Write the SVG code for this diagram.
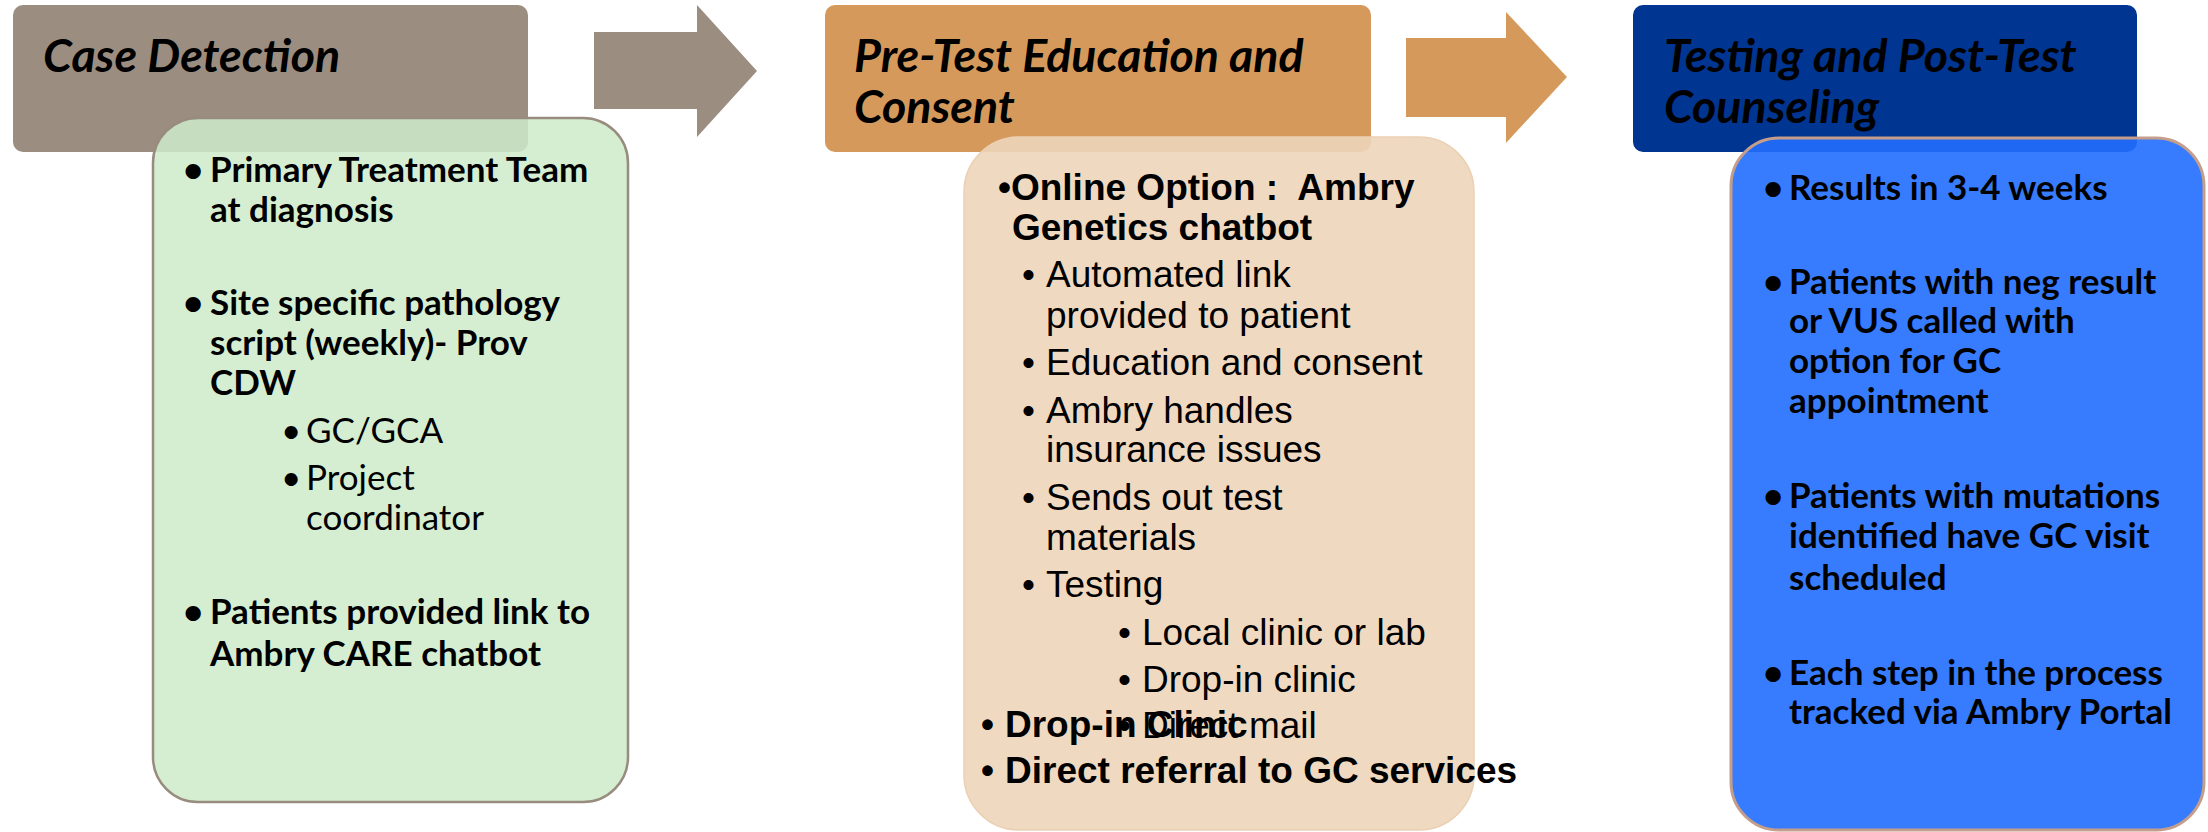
<svg xmlns="http://www.w3.org/2000/svg" width="2208" height="832" viewBox="0 0 2208 832">
  <style>
    .hdr { font-family: Lato, "Open Sans", sans-serif; font-weight: 700; font-style: italic; font-size: 46.5px; fill: #000; }
    .cb { font-family: Lato, "Open Sans", sans-serif; font-weight: 700; font-size: 35px; fill: #000; }
    .cr { font-family: Lato, "Open Sans", sans-serif; font-weight: 400; font-size: 35px; fill: #000; }
    .ab { font-family: "Liberation Sans", Arial, sans-serif; font-weight: 700; font-size: 37px; fill: #000; }
    .ar { font-family: "Liberation Sans", Arial, sans-serif; font-weight: 400; font-size: 37px; fill: #000; }
  </style>

  <!-- stage 1: case detection -->
  <g id="case-detection-header">
    <rect x="13" y="5" width="515" height="147" rx="10" fill="#9B8E80"/>
    <text class="hdr" x="43" y="72">Case Detection</text>
  </g>

  <!-- stage 2: pre-test education -->
  <g id="pretest-header">
    <rect x="825" y="5" width="546" height="147" rx="10" fill="#D59A5B"/>
    <text class="hdr" x="854" y="72">Pre-Test Education and</text>
    <text class="hdr" x="854" y="123">Consent</text>
  </g>

  <!-- stage 3: testing and counseling -->
  <g id="testing-header">
    <rect x="1633" y="5" width="504" height="147" rx="10" fill="#003591"/>
    <text class="hdr" x="1664" y="72">Testing and Post-Test</text>
    <text class="hdr" x="1664" y="123">Counseling</text>
  </g>

  <!-- block arrows between stages -->
  <g id="connectors">
    <polygon points="594,32 697,32 697,5 757,71 697,137 697,109 594,109" fill="#9B8E80"/>
    <polygon points="1406,38 1506,38 1506,12 1567,77 1506,143 1506,117 1406,117" fill="#D59A5B"/>
  </g>

  <!-- detail card: case detection -->
  <g id="case-detection-details">
    <rect x="153" y="118" width="475" height="684" rx="45" fill="#CEEBCA" fill-opacity="0.85" stroke="#988C7E" stroke-width="2.5"/>
    <text class="cb" x="183" y="182">•</text>
    <text class="cb" x="210" y="182">Primary Treatment Team</text>
    <text class="cb" x="210" y="222">at diagnosis</text>
    <text class="cb" x="183" y="315">•</text>
    <text class="cb" x="210" y="315">Site specific pathology</text>
    <text class="cb" x="210" y="355">script (weekly)- Prov</text>
    <text class="cb" x="210" y="395">CDW</text>
    <text class="cr" x="281" y="443">•</text>
    <text class="cr" x="306" y="443">GC/GCA</text>
    <text class="cr" x="281" y="490">•</text>
    <text class="cr" x="306" y="490">Project</text>
    <text class="cr" x="306" y="530">coordinator</text>
    <text class="cb" x="183" y="624">•</text>
    <text class="cb" x="210" y="624">Patients provided link to</text>
    <text class="cb" x="210" y="666">Ambry CARE chatbot</text>
  </g>

  <!-- detail card: pre-test education -->
  <g id="pretest-details">
    <rect x="964" y="137" width="510" height="693" rx="55" fill="#EDD5BA" fill-opacity="0.9" stroke="#EBD0B3" stroke-width="1.5"/>
    <text class="ab" x="998" y="200" xml:space="preserve">•Online Option :  Ambry</text>
    <text class="ab" x="1012" y="240">Genetics chatbot</text>
    <text class="ar" x="1022" y="287">•</text>
    <text class="ar" x="1046" y="287">Automated link</text>
    <text class="ar" x="1046" y="328">provided to patient</text>
    <text class="ar" x="1022" y="375">•</text>
    <text class="ar" x="1046" y="375">Education and consent</text>
    <text class="ar" x="1022" y="423">•</text>
    <text class="ar" x="1046" y="423">Ambry handles</text>
    <text class="ar" x="1046" y="462">insurance issues</text>
    <text class="ar" x="1022" y="510">•</text>
    <text class="ar" x="1046" y="510">Sends out test</text>
    <text class="ar" x="1046" y="550">materials</text>
    <text class="ar" x="1022" y="597">•</text>
    <text class="ar" x="1046" y="597">Testing</text>
    <text class="ar" x="1118" y="645">•</text>
    <text class="ar" x="1142" y="645">Local clinic or lab</text>
    <text class="ar" x="1118" y="692">•</text>
    <text class="ar" x="1142" y="692">Drop-in clinic</text>
    <text class="ar" x="1118" y="738">•</text>
    <text class="ar" x="1142" y="738">Direct mail</text>
    <text class="ab" x="981" y="737">•</text>
    <text class="ab" x="1005" y="737">Drop-in Clinic</text>
    <text class="ab" x="981" y="783">•</text>
    <text class="ab" x="1005" y="783">Direct referral to GC services</text>
  </g>

  <!-- detail card: testing and counseling -->
  <g id="testing-details">
    <rect x="1731" y="138" width="473" height="692" rx="48" fill="#216EFF" fill-opacity="0.9" stroke="#C49E8A" stroke-width="3"/>
    <text class="cb" x="1763" y="200">•</text>
    <text class="cb" x="1789" y="200">Results in 3-4 weeks</text>
    <text class="cb" x="1763" y="294">•</text>
    <text class="cb" x="1789" y="294">Patients with neg result</text>
    <text class="cb" x="1789" y="333">or VUS called with</text>
    <text class="cb" x="1789" y="373">option for GC</text>
    <text class="cb" x="1789" y="413">appointment</text>
    <text class="cb" x="1763" y="508">•</text>
    <text class="cb" x="1789" y="508">Patients with mutations</text>
    <text class="cb" x="1789" y="548">identified have GC visit</text>
    <text class="cb" x="1789" y="590">scheduled</text>
    <text class="cb" x="1763" y="685">•</text>
    <text class="cb" x="1789" y="685">Each step in the process</text>
    <text class="cb" x="1789" y="724">tracked via Ambry Portal</text>
  </g>
</svg>
